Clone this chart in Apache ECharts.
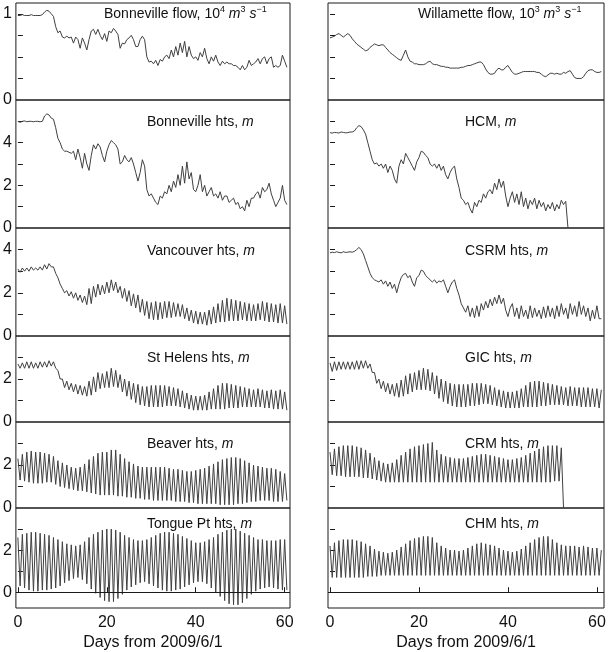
<!DOCTYPE html>
<html><head><meta charset="utf-8">
<script src="https://cdn.jsdelivr.net/npm/echarts@6/dist/echarts.min.js"></script>
<style>html,body{margin:0;padding:0;background:#fff}#c{width:609px;height:652px}</style>
</head><body><div id="c"></div>
<script>
// ---- Data ----
// half-day sampled series (value i is at day i*0.5)
const bonnevilleFlow = [0.98,0.98,0.99,0.98,0.98,0.98,0.99,0.98,0.98,0.98,0.98,0.99,1.02,1.04,1.03,1.0,0.97,0.85,0.78,0.8,0.73,0.72,0.74,0.72,0.73,0.66,0.73,0.7,0.6,0.72,0.66,0.58,0.7,0.8,0.82,0.76,0.82,0.75,0.7,0.77,0.68,0.8,0.78,0.83,0.8,0.76,0.6,0.66,0.65,0.7,0.72,0.75,0.7,0.62,0.62,0.7,0.74,0.7,0.5,0.44,0.45,0.42,0.46,0.4,0.47,0.45,0.5,0.52,0.48,0.58,0.5,0.62,0.52,0.66,0.55,0.68,0.5,0.62,0.52,0.48,0.5,0.46,0.55,0.5,0.6,0.48,0.42,0.5,0.45,0.52,0.44,0.4,0.45,0.42,0.44,0.42,0.42,0.4,0.4,0.38,0.35,0.4,0.35,0.38,0.46,0.4,0.42,0.44,0.48,0.42,0.48,0.5,0.42,0.48,0.5,0.38,0.4,0.38,0.4,0.52,0.45,0.38];
const bonnevilleHts = [5.0,4.95,5.0,5.02,4.98,5.0,5.0,4.98,5.0,5.0,4.98,5.0,5.25,5.35,5.3,5.15,5.1,4.7,4.2,4.0,3.7,3.6,3.6,3.55,3.5,3.6,3.2,3.7,3.3,2.8,3.5,3.0,2.7,3.4,3.9,3.7,3.95,3.8,3.4,3.1,3.6,3.9,4.1,4.0,3.9,3.7,3.0,3.1,3.4,3.2,3.1,3.3,3.0,2.6,2.2,2.6,3.2,2.9,1.8,1.5,1.6,1.4,1.2,1.1,1.5,1.4,1.7,1.6,2.0,1.7,2.2,1.9,2.5,2.0,2.9,2.1,3.1,2.3,2.6,1.8,1.7,2.0,2.5,1.7,2.0,1.5,1.7,1.9,1.5,1.6,1.4,1.7,1.3,1.5,1.5,1.2,1.3,1.4,1.1,1.2,0.9,1.0,0.8,1.3,1.0,1.4,1.4,1.6,1.7,1.4,1.9,1.7,1.8,2.1,1.6,1.3,1.0,1.2,1.4,2.0,1.3,1.1];
const willametteFlow = [0.72,0.73,0.74,0.76,0.77,0.75,0.73,0.75,0.77,0.75,0.71,0.68,0.65,0.63,0.61,0.59,0.57,0.58,0.61,0.63,0.65,0.64,0.63,0.64,0.64,0.61,0.58,0.55,0.53,0.51,0.49,0.47,0.46,0.52,0.58,0.5,0.45,0.44,0.42,0.42,0.41,0.41,0.41,0.42,0.44,0.45,0.42,0.41,0.41,0.4,0.39,0.39,0.38,0.38,0.37,0.37,0.37,0.37,0.37,0.38,0.38,0.39,0.4,0.4,0.41,0.42,0.43,0.44,0.44,0.41,0.36,0.32,0.3,0.3,0.31,0.35,0.37,0.35,0.35,0.38,0.4,0.36,0.32,0.3,0.3,0.31,0.32,0.33,0.33,0.33,0.33,0.33,0.33,0.32,0.32,0.3,0.28,0.27,0.29,0.31,0.31,0.3,0.31,0.3,0.3,0.32,0.31,0.33,0.34,0.3,0.26,0.25,0.25,0.25,0.27,0.31,0.34,0.35,0.35,0.33,0.32,0.32,0.33];
const hcmHts = [4.47,4.45,4.48,4.47,4.45,4.5,4.48,4.46,4.47,4.5,4.5,4.55,4.7,4.8,4.75,4.6,4.4,4.0,3.6,3.2,3.0,3.05,2.9,3.0,2.8,3.0,2.6,2.9,2.7,2.3,2.1,2.9,3.2,3.0,3.5,3.3,3.1,2.9,2.7,3.1,3.3,3.6,3.55,3.4,3.3,3.0,2.9,3.0,2.8,3.0,2.7,2.9,2.5,2.3,2.6,2.8,2.9,2.3,1.9,1.4,1.3,1.1,1.2,0.9,0.7,1.2,1.0,1.3,1.2,1.6,1.4,1.7,1.8,1.6,2.1,1.8,2.3,1.9,2.2,1.5,1.0,1.4,1.7,1.2,1.6,1.1,1.7,1.0,1.4,0.9,1.3,1.1,1.4,0.9,1.3,1.0,1.2,0.8,1.1,0.9,1.2,0.8,1.1,0.9,1.3,1.1,1.25,0];
const csrmHts = [3.85,3.88,3.86,3.9,3.87,3.85,3.9,3.87,3.88,3.9,3.88,3.92,4.0,4.1,4.0,3.8,3.5,3.2,2.9,2.7,2.6,2.55,2.5,2.6,2.4,2.55,2.3,2.5,2.2,2.4,2.0,2.4,2.7,2.85,2.9,2.7,2.8,2.5,2.3,2.7,2.8,3.05,3.0,2.8,2.7,2.6,2.5,2.6,2.45,2.55,2.5,2.6,2.3,2.0,2.3,2.5,2.6,2.2,1.9,1.5,1.3,1.1,1.4,0.9,1.3,0.85,1.4,0.9,1.5,1.2,1.6,1.3,1.7,1.4,1.8,1.5,1.9,1.5,1.75,1.2,0.9,1.3,1.5,0.9,1.3,0.8,1.4,0.9,1.2,0.8,1.4,0.85,1.3,0.9,1.2,0.8,1.35,0.85,1.4,0.9,1.3,0.8,1.4,0.9,1.5,1.0,1.3,0.8,1.5,1.0,1.4,0.9,1.6,1.0,1.4,0.9,1.3,0.7,1.2,0.8,1.4,0.8,0.8];
// tidal series: daily high (at day i) and low (at day i+0.5)
const vancouverHi = [3.1,3.15,3.15,3.2,3.15,3.2,3.3,3.35,3.2,2.7,2.2,2.1,2.05,2.0,1.9,1.85,2.2,2.3,2.4,2.35,2.5,2.6,2.5,2.3,2.2,2.1,1.95,1.9,1.7,1.6,1.55,1.6,1.55,1.6,1.6,1.55,1.5,1.45,1.3,1.2,1.15,1.1,1.1,1.2,1.35,1.5,1.65,1.75,1.7,1.65,1.6,1.55,1.5,1.45,1.5,1.6,1.55,1.5,1.45,1.5,1.4];
const vancouverLo = [2.95,3.0,3.0,3.05,3.05,3.05,3.1,3.2,2.9,2.4,2.0,1.85,1.75,1.65,1.55,1.45,1.5,1.8,1.9,1.95,2.0,2.1,2.0,1.75,1.6,1.4,1.3,1.1,0.95,0.8,0.75,0.75,0.8,0.85,0.85,0.9,0.9,0.8,0.7,0.6,0.55,0.55,0.5,0.55,0.6,0.65,0.65,0.7,0.7,0.7,0.75,0.7,0.7,0.7,0.75,0.7,0.65,0.65,0.6,0.6,0.55];
const stHelensHi = [2.7,2.75,2.8,2.8,2.75,2.8,2.8,2.85,2.8,2.4,2.0,1.9,1.8,1.75,1.7,1.65,1.9,2.1,2.3,2.25,2.35,2.5,2.4,2.2,2.0,1.9,1.8,1.75,1.65,1.65,1.7,1.7,1.7,1.7,1.65,1.6,1.55,1.45,1.35,1.25,1.2,1.2,1.25,1.4,1.55,1.7,1.8,1.8,1.75,1.7,1.65,1.6,1.55,1.5,1.55,1.5,1.45,1.5,1.45,1.5,1.4];
const stHelensLo = [2.5,2.5,2.5,2.5,2.5,2.55,2.55,2.6,2.5,2.0,1.6,1.5,1.4,1.3,1.25,1.2,1.25,1.4,1.55,1.6,1.6,1.65,1.6,1.4,1.2,1.05,0.9,0.8,0.75,0.7,0.7,0.7,0.7,0.75,0.75,0.75,0.7,0.65,0.6,0.55,0.55,0.55,0.55,0.6,0.6,0.6,0.6,0.65,0.65,0.65,0.7,0.7,0.7,0.7,0.7,0.65,0.65,0.6,0.6,0.6,0.55];
const beaverHi = [2.3,2.5,2.6,2.65,2.6,2.6,2.55,2.5,2.4,2.2,2.1,2.0,1.9,1.85,1.9,2.05,2.25,2.4,2.55,2.6,2.6,2.7,2.7,2.5,2.3,2.15,2.05,1.95,1.9,1.9,1.9,1.9,1.9,1.9,1.85,1.8,1.8,1.75,1.7,1.7,1.75,1.8,1.85,1.95,2.05,2.15,2.25,2.3,2.35,2.35,2.3,2.2,2.1,2.0,1.95,1.9,1.85,1.85,1.8,1.7,1.6];
const beaverLo = [1.3,1.25,1.2,1.15,1.15,1.15,1.2,1.2,1.1,1.0,0.95,0.9,0.85,0.8,0.8,0.75,0.7,0.65,0.6,0.6,0.6,0.6,0.55,0.55,0.5,0.5,0.45,0.45,0.4,0.4,0.35,0.35,0.35,0.35,0.35,0.3,0.3,0.3,0.25,0.25,0.2,0.2,0.2,0.2,0.2,0.15,0.15,0.15,0.15,0.2,0.2,0.25,0.3,0.3,0.35,0.35,0.35,0.3,0.3,0.3,0.35];
const tonguePtHi = [2.6,2.75,2.8,2.85,2.85,2.8,2.75,2.7,2.6,2.5,2.4,2.3,2.25,2.2,2.25,2.4,2.6,2.75,2.85,2.95,3.0,3.0,2.95,2.85,2.7,2.6,2.5,2.45,2.45,2.5,2.6,2.7,2.8,2.85,2.85,2.8,2.75,2.65,2.55,2.45,2.35,2.35,2.4,2.5,2.6,2.75,2.85,2.95,3.0,3.0,2.9,2.8,2.7,2.6,2.5,2.5,2.45,2.45,2.45,2.5,2.5];
const tonguePtLo = [0.3,0.2,0.1,0.05,0.05,0.1,0.1,0.15,0.2,0.3,0.45,0.55,0.65,0.7,0.6,0.4,0.15,-0.05,-0.25,-0.4,-0.45,-0.45,-0.3,-0.1,0.1,0.25,0.35,0.45,0.5,0.4,0.3,0.2,0.1,0.05,0.05,0.1,0.15,0.25,0.35,0.45,0.5,0.5,0.4,0.2,0.0,-0.2,-0.4,-0.55,-0.6,-0.6,-0.5,-0.3,-0.1,0.05,0.15,0.2,0.25,0.2,0.15,0.1,0.1];
const gicHi = [2.75,2.8,2.8,2.8,2.8,2.8,2.85,2.85,2.85,2.7,2.3,2.0,1.9,1.8,1.75,1.8,1.95,2.15,2.25,2.3,2.4,2.5,2.45,2.3,2.15,2.0,1.9,1.8,1.75,1.75,1.75,1.75,1.8,1.8,1.8,1.75,1.7,1.6,1.5,1.45,1.4,1.4,1.45,1.55,1.7,1.85,1.9,1.9,1.85,1.8,1.75,1.7,1.65,1.6,1.65,1.6,1.6,1.6,1.6,1.55,1.55,1.5];
const gicLo = [2.35,2.4,2.45,2.45,2.45,2.45,2.45,2.5,2.5,2.3,1.8,1.55,1.4,1.3,1.2,1.15,1.2,1.3,1.4,1.5,1.5,1.5,1.45,1.3,1.1,0.95,0.85,0.75,0.7,0.7,0.7,0.75,0.75,0.8,0.85,0.85,0.8,0.75,0.7,0.65,0.65,0.65,0.65,0.7,0.7,0.7,0.7,0.75,0.75,0.8,0.8,0.8,0.8,0.75,0.75,0.75,0.7,0.7,0.7,0.7,0.65];
const crmHi = [2.6,2.75,2.85,2.9,2.9,2.9,2.85,2.8,2.7,2.55,2.35,2.2,2.1,2.05,2.1,2.25,2.45,2.6,2.75,2.85,2.9,2.95,3.0,3.05,2.7,2.5,2.4,2.35,2.3,2.3,2.3,2.35,2.4,2.45,2.5,2.5,2.45,2.4,2.35,2.3,2.25,2.25,2.3,2.35,2.45,2.55,2.65,2.75,2.85,2.9,2.9,2.9,2.8];
const crmLo = [1.55,1.5,1.5,1.45,1.45,1.45,1.45,1.4,1.4,1.35,1.3,1.25,1.2,1.2,1.2,1.2,1.2,1.2,1.2,1.2,1.2,1.2,1.2,1.2,1.2,1.2,1.2,1.2,1.2,1.2,1.2,1.2,1.2,1.2,1.2,1.2,1.2,1.2,1.2,1.2,1.2,1.2,1.2,1.2,1.2,1.2,1.2,1.2,1.2,1.2,1.25,1.25,0];
const chmHi = [2.2,2.35,2.45,2.5,2.5,2.5,2.45,2.4,2.3,2.2,2.05,1.95,1.9,1.85,1.9,2.0,2.15,2.3,2.45,2.55,2.6,2.65,2.65,2.6,2.35,2.2,2.1,2.0,2.0,1.95,2.0,2.1,2.2,2.3,2.35,2.3,2.25,2.2,2.1,2.0,1.95,1.9,1.95,2.05,2.2,2.35,2.5,2.6,2.65,2.65,2.5,2.35,2.25,2.2,2.2,2.2,2.15,2.2,2.15,2.1,2.1,2.0];
const chmLo = [0.7,0.7,0.7,0.7,0.7,0.7,0.7,0.7,0.75,0.75,0.75,0.8,0.8,0.8,0.8,0.8,0.8,0.8,0.8,0.8,0.8,0.8,0.8,0.8,0.8,0.8,0.8,0.8,0.8,0.8,0.8,0.8,0.8,0.8,0.8,0.8,0.8,0.8,0.8,0.8,0.8,0.8,0.8,0.8,0.8,0.8,0.8,0.8,0.8,0.8,0.8,0.8,0.8,0.8,0.8,0.8,0.8,0.8,0.8,0.8,0.8];

const xTickValues = [0, 20, 40, 60];
const xAxisTitle = 'Days from 2009/6/1';
const panelTitles = [
  ['Bonneville flow, 10{sup|4} {i|m}{sup|3} {i|s}{sup|\u22121}', 'Willamette flow, 10{sup|3} {i|m}{sup|3} {i|s}{sup|\u22121}'],
  ['Bonneville hts, {i|m}', 'HCM, {i|m}'],
  ['Vancouver hts, {i|m}', 'CSRM hts, {i|m}'],
  ['St Helens hts, {i|m}', 'GIC hts, {i|m}'],
  ['Beaver hts, {i|m}', 'CRM hts, {i|m}'],
  ['Tongue Pt hts, {i|m}', 'CHM hts, {i|m}']
];
// ---- build ----
function halfDay(arr){ return arr.map((v,i)=>[i*0.5, v]); }
function hiLo(hi, lo){ const o=[]; for(let i=0;i<hi.length;i++){ o.push([i,hi[i]]); if(i<lo.length) o.push([i+0.5,lo[i]]); } return o; }

const seriesData = [
  [halfDay(bonnevilleFlow), halfDay(willametteFlow)],
  [halfDay(bonnevilleHts), halfDay(hcmHts)],
  [hiLo(vancouverHi, vancouverLo), halfDay(csrmHts)],
  [hiLo(stHelensHi, stHelensLo), hiLo(gicHi, gicLo)],
  [hiLo(beaverHi, beaverLo), hiLo(crmHi, crmLo)],
  [hiLo(tonguePtHi, tonguePtLo), hiLo(chmHi, chmLo)]
];
const rows = [
  {top:3, height:97, min:0, max:1.125, ticks:[0.25,0.5,0.75,1], labels:[0,1]},
  {top:100, height:128, min:0, max:6, ticks:[1,2,3,4,5], labels:[0,2,4]},
  {top:228, height:108, min:0, max:5, ticks:[1,2,3,4], labels:[0,2,4]},
  {top:336, height:86, min:0, max:4, ticks:[1,2,3], labels:[0,2]},
  {top:422, height:86, min:0, max:4, ticks:[1,2,3], labels:[0,2]},
  {top:508, height:103, min:-0.75, max:4, ticks:[1,2,3], labels:[0,2]}
];
const cols = [
  {left:14, width:276, xmin:-0.45, xmax:61.2, titleX:[104,147,147,147,147,147]},
  {left:328, width:276, xmin:-0.45, xmax:61.6, titleX:[418,465,465,465,465,465]}
];
const titleY = [14, 122, 251, 358, 444, 524];
const FONT = '"Liberation Sans", Arial, Helvetica, sans-serif';
const grid=[], xAxis=[], yAxis=[], series=[], title=[];
let g = 0;
rows.forEach((r, ri) => {
  cols.forEach((c, ci) => {
    const last = ri === rows.length - 1;
    grid.push({left:c.left, top:r.top, width:c.width, height:r.height, show:true, borderColor:'#1a1a1a', borderWidth:1, backgroundColor:'transparent', containLabel:false});
    xAxis.push({type:'value', gridIndex:g, min:c.xmin, max:c.xmax,
      axisLine:{show:false}, splitLine:{show:false},
      axisTick:{show:last, inside:true, length:5, customValues:xTickValues, lineStyle:{color:'#1a1a1a'}},
      axisLabel:{show:last, customValues:xTickValues, fontSize:16, color:'#111', fontFamily:FONT, margin:7},
      name: last ? xAxisTitle : '', nameLocation:'middle', nameGap:27,
      nameTextStyle:{fontSize:16, color:'#111', fontFamily:FONT}
    });
    yAxis.push({type:'value', gridIndex:g, min:r.min, max:r.max,
      axisLine:{show:false}, splitLine:{show:false},
      axisTick:{show:true, inside:true, length:5, customValues:r.ticks, lineStyle:{color:'#1a1a1a'}},
      axisLabel:{show:ci===0, customValues:r.labels, fontSize:16, color:'#111', fontFamily:FONT, margin:4}
    });
    const s = {type:'line', xAxisIndex:g, yAxisIndex:g, data:seriesData[ri][ci], symbol:'none', showSymbol:false,
      lineStyle:{color:'#404040', width:1}, animation:false, silent:true, clip:true};
    if (r.min < 0) {
      s.markLine = {silent:true, symbol:['none','none'], animation:false, label:{show:false},
        lineStyle:{color:'#1a1a1a', type:'solid', width:1}, data:[{yAxis:0}]};
    }
    series.push(s);
    title.push({text:panelTitles[ri][ci], left:c.titleX[ri], top:titleY[ri]-9, padding:0,
      textStyle:{fontSize:14, fontWeight:'normal', color:'#111', fontFamily:FONT, lineHeight:18,
        rich:{ i:{fontStyle:'italic', fontSize:14, lineHeight:18, fontFamily:FONT, color:'#111'},
               sup:{fontSize:9, lineHeight:9, verticalAlign:'top', fontFamily:FONT, color:'#111'} }}});
    g++;
  });
});
const chart = echarts.init(document.getElementById('c'), null, {renderer:'canvas'});
chart.setOption({animation:false, backgroundColor:'#fff', title, grid, xAxis, yAxis, series});
</script>
</body></html>
